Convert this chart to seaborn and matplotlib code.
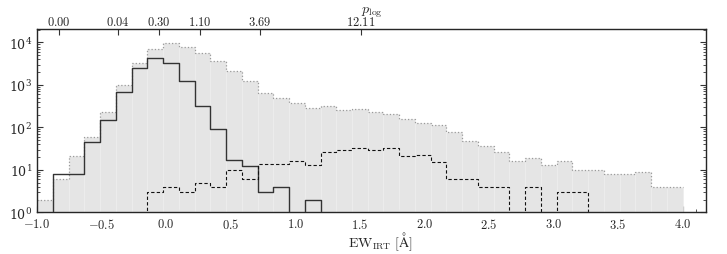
import numpy as np
import pandas as pd
import seaborn as sns
import matplotlib.pyplot as plt
from matplotlib.ticker import MultipleLocator, FuncFormatter, LogLocator, NullFormatter

# histogram bins (EW_IRT, Angstrom)
ew_edges = list(np.linspace(-1.0, 4.0, 42))
ew_centers = [0.5 * (a + b) for a, b in zip(ew_edges[:-1], ew_edges[1:])]

# counts per bin
all_counts = [2, 6, 21, 60, 225, 970, 3320, 6970, 9470, 7910, 5510, 3570, 2080, 1210,
              654, 490, 367, 280, 312, 251, 265, 225, 210, 154, 124, 113, 79, 47, 36,
              27, 16, 19, 13, 16, 10, 10, 8, 8, 9, 4, 4]
solid_counts = [0, 8, 8, 45, 146, 666, 2535, 4357, 3320, 1253, 312, 90, 17, 12,
                3, 4, 0, 2, 0, 0, 0, 0, 0, 0, 0, 0, 0, 0, 0,
                0, 0, 0, 0, 0, 0, 0, 0, 0, 0, 0, 0]
dashed_counts = [0, 0, 0, 0, 0, 0, 0, 3, 4, 3, 5, 4, 10, 6,
                 14, 14, 16, 13, 27, 30, 33, 30, 33, 21, 22, 15, 6, 6, 4,
                 4, 0, 4, 0, 3, 3, 0, 0, 0, 0, 0, 0]

# top axis (p_log)
plog_pos = [-0.83, -0.373, -0.056, 0.262, 0.726, 1.508]
plog_labels = ["0.00", "0.04", "0.30", "1.10", "3.69", "12.11"]

df = pd.DataFrame({"ew": ew_centers, "all": all_counts,
                   "solid": solid_counts, "dashed": dashed_counts})

sns.set_style("ticks")
plt.rcParams["mathtext.fontset"] = "cm"
plt.rcParams["font.family"] = ["DejaVu Serif"]

fig = plt.figure(figsize=(7.27, 2.55), dpi=100)
ax = fig.add_axes([0.051, 0.1635, 0.92, 0.72])

sns.histplot(data=df, x="ew", weights="all", bins=ew_edges, element="bars",
             color="#e5e5e5", edgecolor="#eeeeee", linewidth=0.5, alpha=1, ax=ax)
sns.histplot(data=df, x="ew", weights="all", bins=ew_edges, element="step",
             fill=False, color="#9a9a9a", linestyle=":", linewidth=0.9, ax=ax)
sns.histplot(data=df, x="ew", weights="solid", bins=ew_edges, element="step",
             fill=False, color="#333333", linewidth=1.0, ax=ax)
sns.histplot(data=df, x="ew", weights="dashed", bins=ew_edges, element="step",
             fill=False, color="#111111", linestyle=(0, (3, 2)), linewidth=0.8, ax=ax)

ax.set_yscale("log")
ax.set_xlim(-1.0, 4.18)
ax.set_ylim(1, 2.1e4)
ax.set_ylabel("")
ax.set_xlabel(r"$\mathrm{EW}_{\mathrm{IRT}}\ [\mathrm{\AA}]$", fontsize=10)
ax.xaxis.set_label_coords(0.513, -0.095)

ax.xaxis.set_major_locator(MultipleLocator(0.5))
ax.xaxis.set_minor_locator(MultipleLocator(0.1))
ax.xaxis.set_major_formatter(FuncFormatter(lambda v, p: f"${v:.1f}$"))
ax.yaxis.set_major_locator(LogLocator(base=10))
ax.yaxis.set_minor_locator(LogLocator(base=10, subs=np.arange(2, 10)))
ax.yaxis.set_minor_formatter(NullFormatter())
ax.tick_params(which="both", direction="in", top=False, right=True, labelsize=9,
               color="#333333")
ax.tick_params(which="major", length=4, width=0.8)
ax.tick_params(which="minor", length=2, width=0.6)

for s in ax.spines.values():
    s.set_color("#555555")
    s.set_linewidth(1.0)

ax2 = ax.twiny()
ax2.set_xlim(ax.get_xlim())
ax2.set_xticks(plog_pos)
ax2.set_xticklabels([f"${t}$" for t in plog_labels], fontsize=9)
ax2.tick_params(direction="in", length=4, width=0.8, pad=0.5, color="#333333")
ax2.xaxis.set_minor_locator(plt.NullLocator())
fig.text(0.512, 0.945, r"$p_{\log}$", fontsize=10, ha="center")

fig.savefig("out.png", dpi=100)
